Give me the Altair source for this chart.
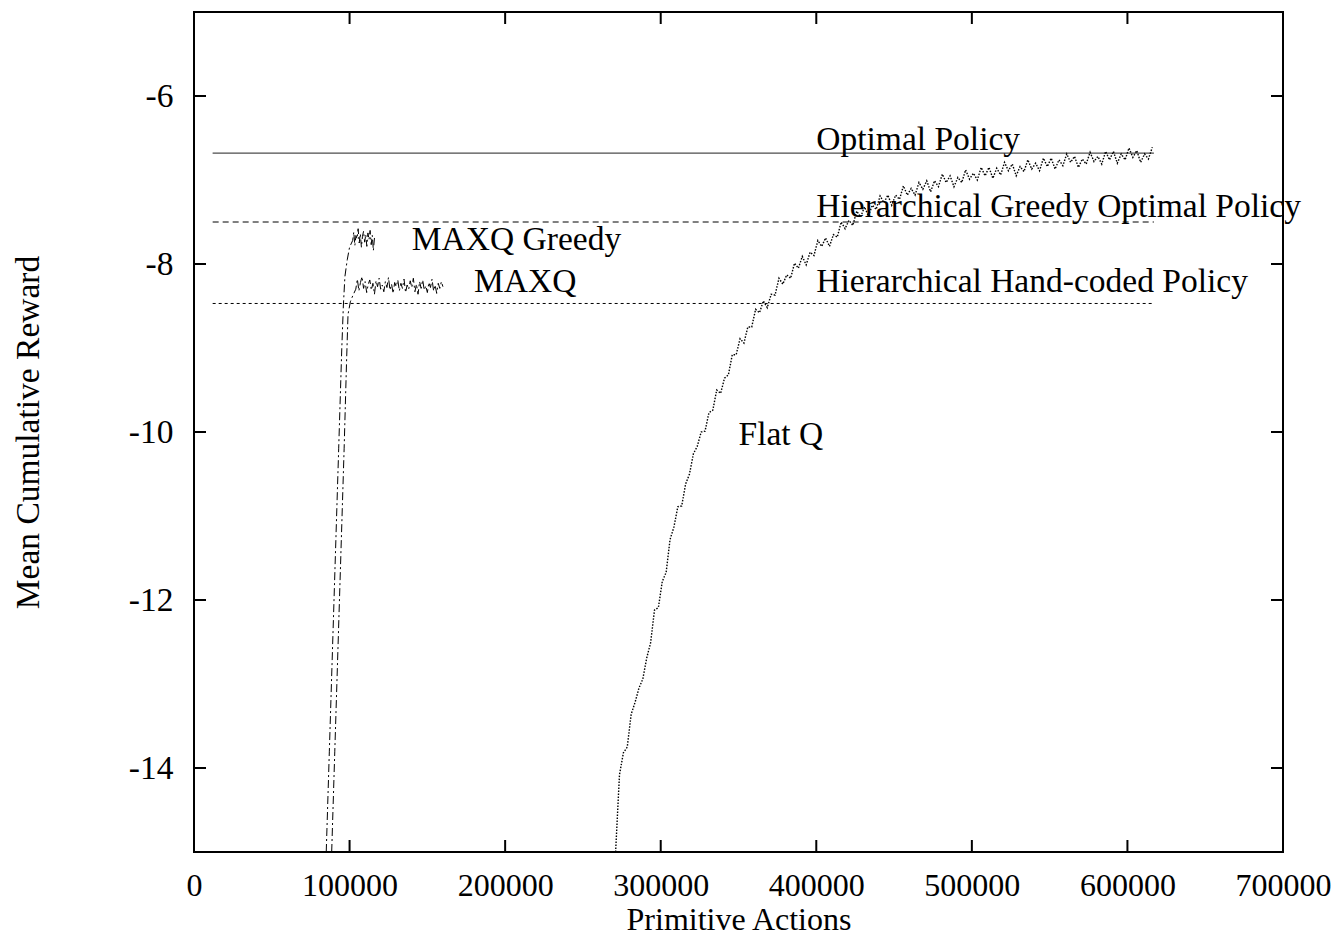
import altair as alt
import pandas as pd

FONT = "Liberation Serif"
FS = 33.5
FA = 32
W, H = 1089, 840
TICK = 12

x_ticks = [0, 100000, 200000, 300000, 400000, 500000, 600000, 700000]
y_ticks = [-14, -12, -10, -8, -6]

ref_names = ["Optimal Policy", "Hierarchical Greedy Optimal Policy", "Hierarchical Hand-coded Policy"]
ref_values = [-6.68, -7.50, -8.47]
ref_x = [12000, 617000]

greedy_x = [85000, 87000, 89000, 91000, 93000, 95000, 96000, 97000, 98500, 100000] + \
    list(range(102000, 116001, 700))
greedy_y = [-15.0, -13.8, -12.6, -11.4, -10.2, -9.0, -8.5, -8.15, -7.95, -7.8,
            -7.72, -7.62, -7.78, -7.66, -7.70, -7.58, -7.75, -7.64, -7.80, -7.67,
            -7.61, -7.74, -7.65, -7.79, -7.63, -7.71, -7.60, -7.77, -7.66, -7.84, -7.69]

maxq_x = [88500, 90500, 92500, 94500, 96500, 98000, 99000, 100500, 102000] + \
    list(range(104000, 160001, 1000))
maxq_y = [-15.0, -13.8, -12.6, -11.4, -10.2, -9.2, -8.6, -8.45, -8.38,
          -8.30, -8.18, -8.32, -8.22, -8.15, -8.29, -8.21, -8.34, -8.24, -8.19,
          -8.31, -8.23, -8.36, -8.20, -8.27, -8.17, -8.30, -8.25, -8.33, -8.21,
          -8.28, -8.16, -8.31, -8.24, -8.35, -8.22, -8.27, -8.19, -8.32, -8.23,
          -8.29, -8.18, -8.34, -8.25, -8.30, -8.20, -8.28, -8.17, -8.33, -8.24,
          -8.36, -8.21, -8.29, -8.19, -8.31, -8.26, -8.34, -8.22, -8.28, -8.18,
          -8.32, -8.25, -8.35, -8.23, -8.29, -8.21, -8.27]

flat_x = list(range(271000, 616001, 2500))
flat_y = [-15.00, -14.08, -13.82, -13.75, -13.36, -13.22, -13.05, -12.94, -12.69, -12.51,
          -12.12, -12.09, -11.78, -11.67, -11.28, -11.13, -10.89, -10.88, -10.62, -10.50,
          -10.26, -10.17, -10.00, -9.99, -9.77, -9.74, -9.50, -9.54, -9.36, -9.32,
          -9.08, -9.08, -8.89, -8.94, -8.75, -8.75, -8.54, -8.58, -8.44, -8.52,
          -8.36, -8.37, -8.17, -8.24, -8.13, -8.17, -7.99, -8.05, -7.91, -8.01,
          -7.86, -7.90, -7.72, -7.79, -7.69, -7.79, -7.65, -7.68, -7.50, -7.58,
          -7.48, -7.54, -7.37, -7.44, -7.32, -7.43, -7.30, -7.35, -7.19, -7.27,
          -7.18, -7.30, -7.18, -7.23, -7.07, -7.18, -7.10, -7.18, -7.03, -7.11,
          -7.01, -7.14, -7.01, -7.08, -6.93, -7.03, -6.95, -7.08, -6.97, -7.03,
          -6.88, -6.99, -6.92, -7.00, -6.85, -6.95, -6.85, -6.98, -6.86, -6.94,
          -6.79, -6.89, -6.81, -6.95, -6.84, -6.90, -6.76, -6.87, -6.80, -6.89,
          -6.74, -6.84, -6.74, -6.87, -6.76, -6.83, -6.69, -6.79, -6.72, -6.85,
          -6.75, -6.81, -6.67, -6.78, -6.72, -6.81, -6.66, -6.76, -6.66, -6.80,
          -6.69, -6.76, -6.62, -6.73, -6.65, -6.79, -6.69, -6.75, -6.61]

label_texts = ["Optimal Policy", "Hierarchical Greedy Optimal Policy",
               "Hierarchical Hand-coded Policy", "MAXQ Greedy", "MAXQ", "Flat Q"]
label_x = [400000, 400000, 400000, 140000, 180000, 350000]
label_y = [-6.52, -7.32, -8.21, -7.72, -8.21, -10.04]

xscale = alt.Scale(domain=[0, 700000], nice=False, zero=False)
yscale = alt.Scale(domain=[-15, -5], nice=False, zero=False)

X = alt.X("x:Q", scale=xscale,
          axis=alt.Axis(values=x_ticks, labelExpr="'' + datum.value", tickSize=0, domain=False,
                        grid=False, labelFont=FONT, labelFontSize=FA, labelColor="black",
                        labelPadding=18, labelFlush=False, title="Primitive Actions",
                        titleFont=FONT, titleFontSize=FA, titleFontWeight="normal",
                        titleColor="black", titlePadding=3))
Y = alt.Y("y:Q", scale=yscale,
          axis=alt.Axis(values=y_ticks, labelExpr="'' + datum.value", tickSize=0, domain=False,
                        grid=False, labelFont=FONT, labelFontSize=FS, labelColor="black",
                        labelPadding=21, title="Mean Cumulative Reward",
                        titleFont=FONT, titleFontSize=FS, titleFontWeight="normal",
                        titleColor="black", titlePadding=83))

layers = []
ref_dash = [[1, 0], [6, 4], [3, 3]]
for name, v, d in zip(ref_names, ref_values, ref_dash):
    df = pd.DataFrame({"x": ref_x, "y": [v, v]})
    layers.append(alt.Chart(df).mark_line(color="black", strokeWidth=1, strokeDash=d).encode(x=X, y=Y))

df_g = pd.DataFrame({"x": greedy_x, "y": greedy_y})
df_m = pd.DataFrame({"x": maxq_x, "y": maxq_y})
df_f = pd.DataFrame({"x": flat_x, "y": flat_y})
layers.append(alt.Chart(df_g).mark_line(color="black", strokeWidth=1, strokeDash=[8, 3, 2, 3], clip=True).encode(x=X, y=Y))
layers.append(alt.Chart(df_m).mark_line(color="black", strokeWidth=1, strokeDash=[8, 3, 2, 3], clip=True).encode(x=X, y=Y))
layers.append(alt.Chart(df_f).mark_line(color="black", strokeWidth=1.4, strokeDash=[1.5, 1.5], clip=True).encode(x=X, y=Y))

df_l = pd.DataFrame({"x": label_x, "y": label_y, "t": label_texts})
layers.append(alt.Chart(df_l).mark_text(font=FONT, fontSize=FS, color="black", align="left",
                                        baseline="middle").encode(x=X, y=Y, text="t:N"))

# inward tick marks on all four sides
df_xt = pd.DataFrame({"x": x_ticks[1:-1]})
df_yt = pd.DataFrame({"y": y_ticks})
xs = alt.X("x:Q", scale=xscale)
ys = alt.Y("y:Q", scale=yscale)
layers.append(alt.Chart(df_xt).mark_rule(color="black", strokeWidth=2).encode(x=xs, y=alt.value(H), y2=alt.value(H - TICK)))
layers.append(alt.Chart(df_xt).mark_rule(color="black", strokeWidth=2).encode(x=xs, y=alt.value(0), y2=alt.value(TICK)))
layers.append(alt.Chart(df_yt).mark_rule(color="black", strokeWidth=2).encode(y=ys, x=alt.value(0), x2=alt.value(TICK)))
layers.append(alt.Chart(df_yt).mark_rule(color="black", strokeWidth=2).encode(y=ys, x=alt.value(W), x2=alt.value(W - TICK)))

chart = alt.layer(*layers).properties(
    width=W, height=H,
    autosize=alt.AutoSizeParams(type="none"),
    padding={"left": 194, "top": 12, "right": 56, "bottom": 86},
    background="white",
).configure_view(stroke="black", strokeWidth=2)

chart.save("out.html", embed_options={"renderer": "svg", "actions": False})
